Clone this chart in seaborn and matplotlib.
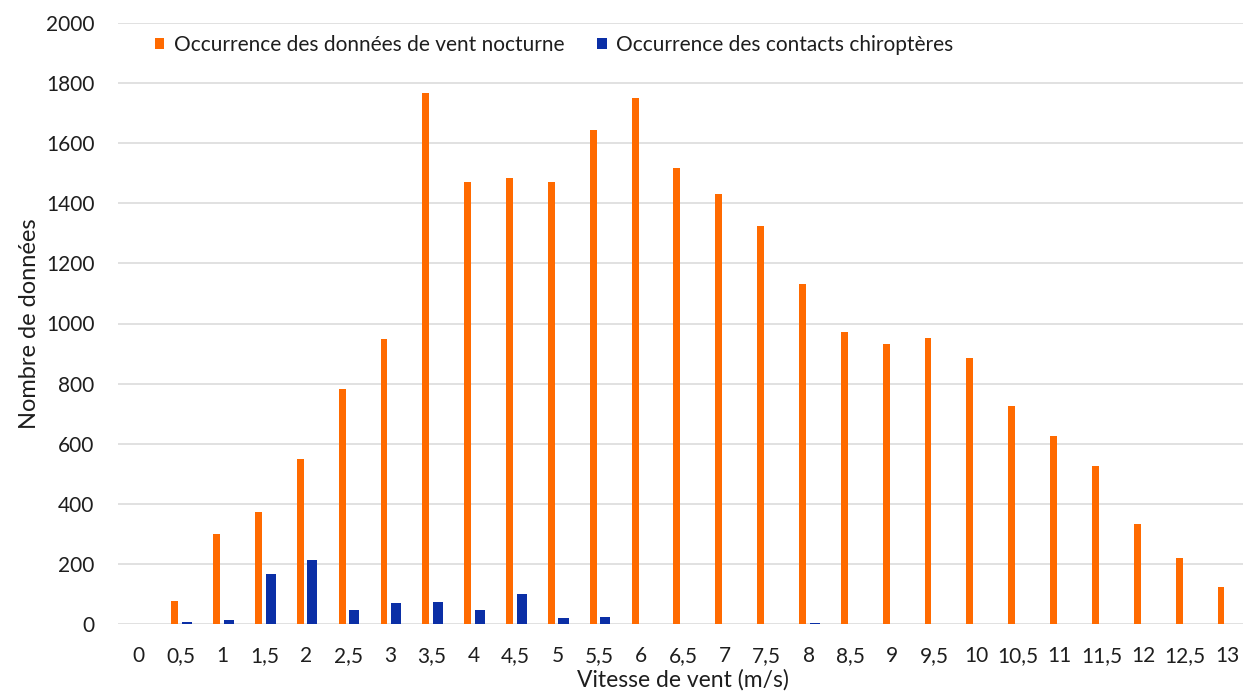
import matplotlib
matplotlib.use("Agg")
import matplotlib.pyplot as plt
from matplotlib.patches import Patch
import seaborn as sns
import pandas as pd

# Wind speed classes (m/s) as shown on the axis
speed_labels = ["0", "0,5", "1", "1,5", "2", "2,5", "3", "3,5", "4", "4,5", "5",
                "5,5", "6", "6,5", "7", "7,5", "8", "8,5", "9", "9,5", "10",
                "10,5", "11", "11,5", "12", "12,5", "13"]

# Number of night-time wind records per class
wind_counts = [0, 76, 300, 373, 550, 783, 947, 1766, 1472, 1483, 1472,
               1643, 1752, 1516, 1431, 1323, 1132, 973, 932, 953, 885,
               724, 625, 526, 333, 219, 122]

# Number of bat contacts per class
bat_counts = [0, 5, 14, 165, 213, 47, 71, 73, 47, 99, 21,
              24, 0, 0, 0, 0, 4, 0, 0, 0, 0,
              0, 0, 0, 0, 0, 0]

series_names = ["Occurrence des données de vent nocturne",
                "Occurrence des contacts chiroptères"]
series_colors = ["#FF6A00", "#0B2FA6"]

df = pd.concat([
    pd.DataFrame({"vitesse": speed_labels, "n": wind_counts, "serie": series_names[0]}),
    pd.DataFrame({"vitesse": speed_labels, "n": bat_counts, "serie": series_names[1]}),
])

sns.set_theme(style="white")
plt.rcParams["font.family"] = ["Lato", "DejaVu Sans"]
text_color = "#1E1E1E"

fig = plt.figure(figsize=(12.43, 6.95), dpi=100)
ax = fig.add_axes([118 / 1243, 1 - 624 / 695, 1130 / 1243, 601 / 695])

sns.barplot(data=df, x="vitesse", y="n", hue="serie", order=speed_labels,
            hue_order=series_names, palette=series_colors, width=0.58,
            dodge=True, saturation=1, legend=False, ax=ax)

# Narrow the bars around their dodged centres
n_cat = len(speed_labels)
for i, bar in enumerate(ax.patches[:2 * n_cat]):
    new_w = 0.165 if i < n_cat else 0.24
    cx = bar.get_x() + bar.get_width() / 2
    bar.set_width(new_w)
    bar.set_x(cx - new_w / 2)
    bar.set_linewidth(0)

ax.set_xlim(-0.5, n_cat - 0.5)
ax.set_ylim(0, 2000)
ax.set_yticks(range(0, 2001, 200))
ax.yaxis.grid(True, color="#D9D9D9", linewidth=1.1)
ax.set_axisbelow(True)
for s in ax.spines.values():
    s.set_visible(False)
ax.tick_params(axis="both", length=0, labelsize=15, colors=text_color)
ax.tick_params(axis="x", pad=16)
ax.tick_params(axis="y", pad=17)

ax.set_xlabel("Vitesse de vent (m/s)", fontsize=16.5, color=text_color, labelpad=2)
ax.set_ylabel("Nombre de données", fontsize=17, color=text_color, labelpad=4)

handles = [Patch(facecolor=c, edgecolor="none") for c in series_colors]
ax.legend(handles, series_names, loc="upper left", bbox_to_anchor=(0.016, 1.012),
          ncol=2, frameon=False, fontsize=15, handlelength=0.45, handleheight=0.45,
          handletextpad=0.45, columnspacing=1.6, labelcolor=text_color)

fig.savefig("out.png", dpi=100, facecolor="white")
